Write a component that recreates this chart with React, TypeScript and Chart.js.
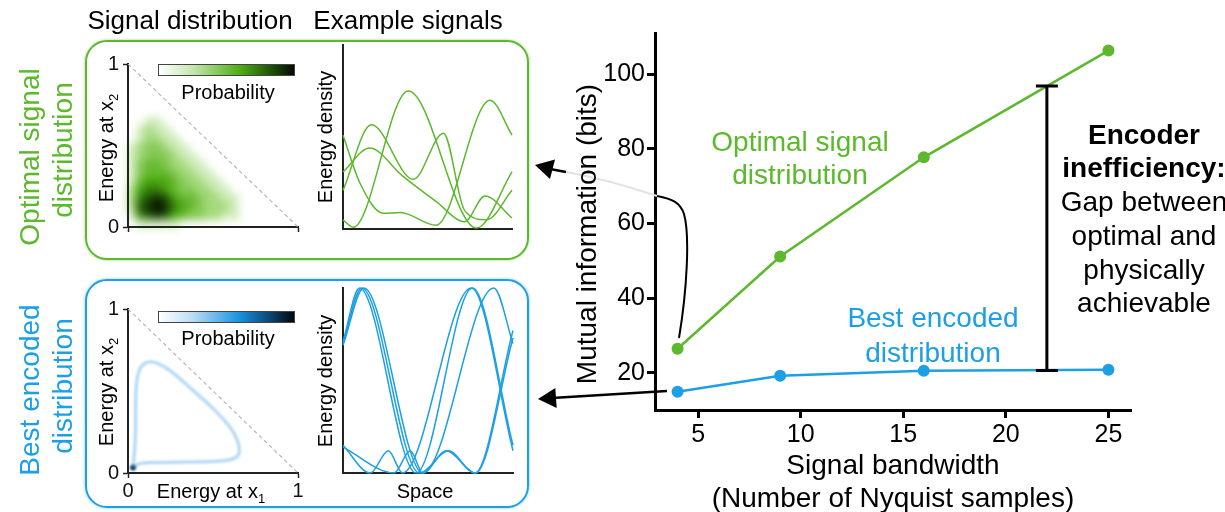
import React, { useEffect, useRef } from "react";
import { Chart, registerables } from "chart.js";
Chart.register(...registerables);

const FONT = "'Liberation Sans', Arial, Helvetica, sans-serif";
Chart.defaults.font.family = FONT;

const GREEN = "#5cb82c";
const BLUE = "#1c9fe4";

// ---------- main panel data ----------
const bandwidth = [4, 9, 16, 25];
const optimalBits = [26.4, 51.1, 77.7, 106.3];
const encodedBits = [14.9, 19.2, 20.5, 20.8];
const bandwidthTicks = [5, 10, 15, 20, 25];
const bitsTicks = [20, 40, 60, 80, 100];
const gapBandwidth = 22;
const gapLow = 20.6;
const gapHigh = 96.8;

// ---------- distribution panels ----------
const unitTicks = [0, 1];
const densityColsX = [0.025, 0.075, 0.125, 0.175, 0.225, 0.275, 0.325, 0.375, 0.425, 0.475, 0.525, 0.575, 0.625, 0.675];
const densityRowsY = [0.625, 0.575, 0.525, 0.475, 0.425, 0.375, 0.325, 0.275, 0.225, 0.175, 0.125, 0.075, 0.025];
const optimalDensityRows = [
  "00110000000000",
  "01211000000000",
  "01221100000000",
  "12332110000000",
  "12333211000000",
  "13443221100000",
  "13444322110000",
  "14555432211000",
  "25665433221100",
  "26787544322110",
  "27898654322210",
  "16787543322110",
  "01111100000000",
];
const loopX = [0.03, 0.08, 0.2, 0.35, 0.5, 0.6, 0.645, 0.655, 0.64, 0.6, 0.5, 0.4, 0.3, 0.22, 0.15, 0.1, 0.065, 0.048, 0.045, 0.042, 0.03];
const loopY = [0.035, 0.058, 0.062, 0.064, 0.068, 0.078, 0.1, 0.14, 0.2, 0.27, 0.38, 0.47, 0.56, 0.62, 0.652, 0.645, 0.6, 0.5, 0.35, 0.18, 0.035];
const loopPeak = [0.03, 0.033];

// ---------- example signals ----------
const optimalSignals = [
  [[0, 0.05], [0.06, 0.01], [0.386, 0.75], [0.79, 0.005], [1, 0.31]],
  [[0, 0.21], [0.168, 0.566], [0.416, 0.27], [0.594, 0.52], [0.72, 0.1], [0.85, 0.05], [1, 0.21]],
  [[0, 0.31], [0.158, 0.44], [0.35, 0.29], [0.55, 0.15], [0.72, 0.04], [0.84, 0.18], [1, 0.06]],
  [[0, 0.51], [0.1, 0.25], [0.24, 0.085], [0.34, 0.09], [0.55, 0.02], [0.87, 0.7], [1, 0.51]],
];
const encodedSignals = [
  [[0, 0.71], [0.097, 1], [0.43, 0], [0.762, 1], [1, 0.15]],
  [[0, 0.7], [0.11, 1], [0.45, 0], [0.62, 0.12], [0.775, 0], [1, 0.77]],
  [[0, 0.69], [0.123, 1], [0.47, 0], [0.887, 1], [1, 0.7]],
  [[0, 0.15], [0.16, 0], [0.267, 0.12], [0.35, 0], [0.755, 1], [1, 0.12]],
  [[0, 0.14], [0.3, 0], [0.396, 0.12], [0.47, 0], [0.608, 0.12], [0.78, 0], [1, 0.73]],
];

// ---------- helpers ----------
const greenStopPos = [0, 0.2, 0.55, 0.82, 1];
const greenStopRgb = [[255, 255, 255], [170, 220, 130], [75, 170, 15], [25, 70, 5], [5, 10, 2]];
function shade(t: number) {
  const tt = Math.min(Math.max(t, 0), 1);
  let i = 0;
  while (i < greenStopPos.length - 2 && tt > greenStopPos[i + 1]) i++;
  const f = (tt - greenStopPos[i]) / (greenStopPos[i + 1] - greenStopPos[i]);
  const a = greenStopRgb[i], b = greenStopRgb[i + 1];
  return `rgb(${Math.round(a[0] + (b[0] - a[0]) * f)},${Math.round(a[1] + (b[1] - a[1]) * f)},${Math.round(a[2] + (b[2] - a[2]) * f)})`;
}

function ChartCanvas({ left, top, width, height, make, filter }: any) {
  const ref = useRef<HTMLCanvasElement>(null);
  useEffect(() => {
    const chart = new Chart(ref.current as HTMLCanvasElement, make());
    return () => chart.destroy();
  }, []);
  return (
    <canvas
      ref={ref}
      width={width}
      height={height}
      style={{ position: "absolute", left, top, width, height, filter }}
    />
  );
}

function panelConfig(o: any) {
  const mk = (isX: boolean) => ({
    type: "linear",
    min: 0,
    max: 1,
    afterFit: (s: any) => {
      if (isX) s.height = o.xHeight;
      else s.width = o.yWidth;
    },
    afterBuildTicks: (s: any) => {
      s.ticks = unitTicks.map((v) => ({ value: v }));
    },
    grid: {
      display: !!o.ticks && o.axes,
      drawOnChartArea: false,
      tickLength: 5,
      tickWidth: 1.5,
      tickColor: "#222",
      color: "#222",
    },
    border: { display: !!o.axes, color: "#222", width: 2 },
    ticks: {
      display: !!(isX ? o.xLabels : o.yLabels) && o.axes,
      color: "#111",
      font: { size: 20, family: FONT },
      padding: isX ? 1 : 4,
      maxRotation: 0,
      autoSkip: false,
      callback: (v: any) => String(v),
    },
  });
  return {
    type: "scatter",
    data: { datasets: o.datasets },
    options: {
      animation: false,
      responsive: false,
      maintainAspectRatio: false,
      layout: { padding: o.pad },
      plugins: { legend: { display: false }, tooltip: { enabled: false } },
      events: [],
      scales: { x: mk(true), y: mk(false) },
    },
  };
}

const diagonal = {
  data: [{ x: 0, y: 1 }, { x: 1, y: 0 }],
  showLine: true,
  borderColor: "#b8b8b8",
  borderWidth: 1.2,
  borderDash: [4, 3],
  pointRadius: 0,
};

function densityDataset() {
  const pts: any[] = [];
  const cols: string[] = [];
  optimalDensityRows.forEach((row, r) => {
    row.split("").forEach((ch, c) => {
      const v = Number(ch);
      if (v > 0) {
        pts.push({ x: densityColsX[c], y: densityRowsY[r] });
        cols.push(shade(v / 9));
      }
    });
  });
  return {
    data: pts,
    pointStyle: "rect",
    pointRadius: 6.6,
    pointBorderWidth: 0,
    borderWidth: 0,
    backgroundColor: cols,
    clip: false,
  };
}

function signalDatasets(sig: number[][][], color: string) {
  return sig.map((c) => ({
    data: c.map(([x, y]) => ({ x, y })),
    showLine: true,
    borderColor: color,
    borderWidth: 1.5,
    pointRadius: 0,
    cubicInterpolationMode: "monotone",
    clip: false,
  }));
}

const gapPlugin = {
  id: "gapBar",
  afterDatasetsDraw(chart: any) {
    const { ctx, scales } = chart;
    const px = scales.x.getPixelForValue(gapBandwidth);
    const t = scales.y.getPixelForValue(gapHigh);
    const b = scales.y.getPixelForValue(gapLow);
    ctx.save();
    ctx.strokeStyle = "#000";
    ctx.lineWidth = 3;
    ctx.beginPath();
    ctx.moveTo(px, t);
    ctx.lineTo(px, b);
    ctx.moveTo(px - 11, t);
    ctx.lineTo(px + 11, t);
    ctx.moveTo(px - 11, b);
    ctx.lineTo(px + 11, b);
    ctx.stroke();
    ctx.restore();
  },
};

function mainConfig() {
  const axisCommon = {
    grid: { drawOnChartArea: false, tickLength: 8, tickWidth: 3, tickColor: "#000", color: "#000" },
    border: { color: "#000", width: 3 },
  };
  return {
    type: "scatter",
    data: {
      datasets: [
        {
          data: bandwidth.map((x, i) => ({ x, y: optimalBits[i] })),
          showLine: true,
          borderColor: GREEN,
          backgroundColor: GREEN,
          borderWidth: 2.5,
          pointRadius: 6,
          pointBorderWidth: 0,
          clip: false,
        },
        {
          data: bandwidth.map((x, i) => ({ x, y: encodedBits[i] })),
          showLine: true,
          borderColor: BLUE,
          backgroundColor: BLUE,
          borderWidth: 2.5,
          pointRadius: 6,
          pointBorderWidth: 0,
          clip: false,
        },
      ],
    },
    options: {
      animation: false,
      responsive: false,
      maintainAspectRatio: false,
      events: [],
      layout: { padding: { left: 0, top: 33, right: 94, bottom: 0 } },
      plugins: { legend: { display: false }, tooltip: { enabled: false } },
      scales: {
        x: {
          type: "linear",
          min: 2.9,
          max: 26.1,
          afterFit: (s: any) => {
            s.height = 102;
          },
          afterBuildTicks: (s: any) => {
            s.ticks = bandwidthTicks.map((v) => ({ value: v }));
          },
          ...axisCommon,
          ticks: { color: "#000", font: { size: 25, family: FONT }, padding: 2, maxRotation: 0, autoSkip: false },
        },
        y: {
          type: "linear",
          min: 10,
          max: 111,
          afterFit: (s: any) => {
            s.width = 95;
          },
          afterBuildTicks: (s: any) => {
            s.ticks = bitsTicks.map((v) => ({ value: v }));
          },
          ...axisCommon,
          ticks: { color: "#000", font: { size: 25, family: FONT }, padding: 2, autoSkip: false },
        },
      },
    },
    plugins: [gapPlugin],
  };
}

function Txt({ x, y, size = 28, color = "#000", rotate = false, bold = false, children }: any) {
  return (
    <div
      style={{
        position: "absolute",
        left: x,
        top: y,
        transform: `translate(-50%, -50%)${rotate ? " rotate(-90deg)" : ""}`,
        fontFamily: FONT,
        fontSize: size,
        fontWeight: bold ? 700 : 400,
        color,
        whiteSpace: "nowrap",
        lineHeight: 1,
      }}
    >
      {children}
    </div>
  );
}

const sub = (s: string) => (
  <span style={{ fontSize: 13, position: "relative", top: 5 }}>{s}</span>
);

export default function App() {
  return (
    <div
      style={{
        position: "absolute",
        left: 0,
        top: 0,
        width: 1225,
        height: 512,
        background: "#fff",
        overflow: "hidden",
      }}
    >
      {/* rounded boxes */}
      <div style={{ position: "absolute", left: 85, top: 40, width: 440, height: 216, border: `2px solid ${GREEN}`, borderRadius: 22, boxShadow: `0 0 3px rgba(92,184,44,0.6)` }} />
      <div style={{ position: "absolute", left: 85, top: 279, width: 440, height: 225, border: `2px solid ${BLUE}`, borderRadius: 22, boxShadow: `0 0 3px rgba(28,159,228,0.6)` }} />

      {/* distribution heat layers */}
      <ChartCanvas
        left={98} top={48} width={210} height={195} filter="blur(4.5px)"
        make={() => panelConfig({ datasets: [densityDataset()], pad: { left: 0, top: 10, right: 10, bottom: 0 }, yWidth: 30, xHeight: 15, axes: false })}
      />
      <ChartCanvas
        left={98} top={293} width={215} height={210} filter="blur(1.2px)"
        make={() =>
          panelConfig({
            datasets: [
              {
                data: loopX.map((x, i) => ({ x, y: loopY[i] })),
                showLine: true,
                borderColor: "rgba(95,175,236,0.45)",
                borderWidth: 3.5,
                tension: 0.4,
                pointRadius: 0,
                clip: false,
              },
              {
                data: [{ x: loopPeak[0], y: loopPeak[1] }],
                pointRadius: 3,
                backgroundColor: "#07325a",
                pointBorderWidth: 0,
                clip: false,
              },
            ],
            pad: { left: 0, top: 10, right: 15, bottom: 0 },
            yWidth: 30,
            xHeight: 30,
            axes: false,
          })
        }
      />
      {/* distribution axes */}
      <ChartCanvas
        left={98} top={48} width={210} height={195}
        make={() => panelConfig({ datasets: [diagonal], pad: { left: 0, top: 10, right: 10, bottom: 0 }, yWidth: 30, xHeight: 15, axes: true, ticks: true, yLabels: true, xLabels: false })}
      />
      <ChartCanvas
        left={98} top={293} width={215} height={210}
        make={() => panelConfig({ datasets: [diagonal], pad: { left: 0, top: 10, right: 15, bottom: 0 }, yWidth: 30, xHeight: 30, axes: true, ticks: true, yLabels: true, xLabels: true })}
      />

      {/* example signals */}
      <ChartCanvas
        left={339} top={41} width={177} height={192}
        make={() => panelConfig({ datasets: signalDatasets(optimalSignals, GREEN), pad: 4, yWidth: 0, xHeight: 0, axes: true })}
      />
      <ChartCanvas
        left={339} top={284} width={178} height={193}
        make={() => panelConfig({ datasets: signalDatasets(encodedSignals, BLUE), pad: 4, yWidth: 0, xHeight: 0, axes: true })}
      />

      {/* colour bars */}
      <div style={{ position: "absolute", left: 158, top: 64, width: 135, height: 10, border: "1px solid #444", background: "linear-gradient(to right, #ffffff 0%, #c5e6ad 25%, #4fae14 60%, #1d4a06 85%, #050a02 100%)" }} />
      <div style={{ position: "absolute", left: 158, top: 311, width: 135, height: 10, border: "1px solid #444", background: "linear-gradient(to right, #ffffff 0%, #b9dcf5 25%, #1692dc 60%, #0a3c63 85%, #02080e 100%)" }} />

      {/* main chart */}
      <ChartCanvas left={560} top={0} width={665} height={512} make={mainConfig} />

      {/* arrows */}
      <svg width={1225} height={512} style={{ position: "absolute", left: 0, top: 0, pointerEvents: "none" }}>
        <path d="M 657 196 C 630 187, 600 178, 566 172" stroke="#e2e2e2" strokeWidth={2} fill="none" />
        <path d="M 679 338 C 687 290, 690 235, 684 214 C 680 202, 672 199, 657 196" stroke="#000" strokeWidth={2} fill="none" />
        <path d="M 566 172 L 550 169" stroke="#000" strokeWidth={2.5} fill="none" />
        <polygon points="535,165 555,159.5 550,179" fill="#000" />
        <path d="M 667 391 L 552 398" stroke="#000" strokeWidth={2.5} fill="none" />
        <polygon points="538,399 556.7,408 555.3,388" fill="#000" />
      </svg>

      {/* left panel texts */}
      <Txt x={190} y={20} size={26}>Signal distribution</Txt>
      <Txt x={408} y={20} size={26}>Example signals</Txt>
      <Txt x={30} y={157} color={GREEN} rotate>Optimal signal</Txt>
      <Txt x={63} y={150} color={GREEN} rotate>distribution</Txt>
      <Txt x={30} y={390} color={BLUE} rotate>Best encoded</Txt>
      <Txt x={63} y={386} color={BLUE} rotate>distribution</Txt>

      <Txt x={106} y={148} size={20} rotate>Energy at x{sub("2")}</Txt>
      <Txt x={106} y={392} size={20} rotate>Energy at x{sub("2")}</Txt>
      <Txt x={228} y={92} size={20}>Probability</Txt>
      <Txt x={228} y={338} size={20}>Probability</Txt>
      <Txt x={325} y={137} size={20} rotate>Energy density</Txt>
      <Txt x={325} y={381} size={20} rotate>Energy density</Txt>
      <Txt x={425} y={491} size={20}>Space</Txt>
      <Txt x={211} y={491} size={20}>Energy at x{sub("1")}</Txt>

      {/* main chart texts */}
      <Txt x={587} y={234} rotate>Mutual information (bits)</Txt>
      <Txt x={893} y={465}>Signal bandwidth</Txt>
      <Txt x={893} y={498}>(Number of Nyquist samples)</Txt>
      <Txt x={800} y={142} color={GREEN}>Optimal signal</Txt>
      <Txt x={800} y={175} color={GREEN}>distribution</Txt>
      <Txt x={933} y={318} color={BLUE}>Best encoded</Txt>
      <Txt x={933} y={353} color={BLUE}>distribution</Txt>
      <Txt x={1144} y={135} bold>Encoder</Txt>
      <Txt x={1144} y={168} bold>inefficiency:</Txt>
      <Txt x={1144} y={202}>Gap between</Txt>
      <Txt x={1144} y={236}>optimal and</Txt>
      <Txt x={1144} y={270}>physically</Txt>
      <Txt x={1144} y={303}>achievable</Txt>
    </div>
  );
}
